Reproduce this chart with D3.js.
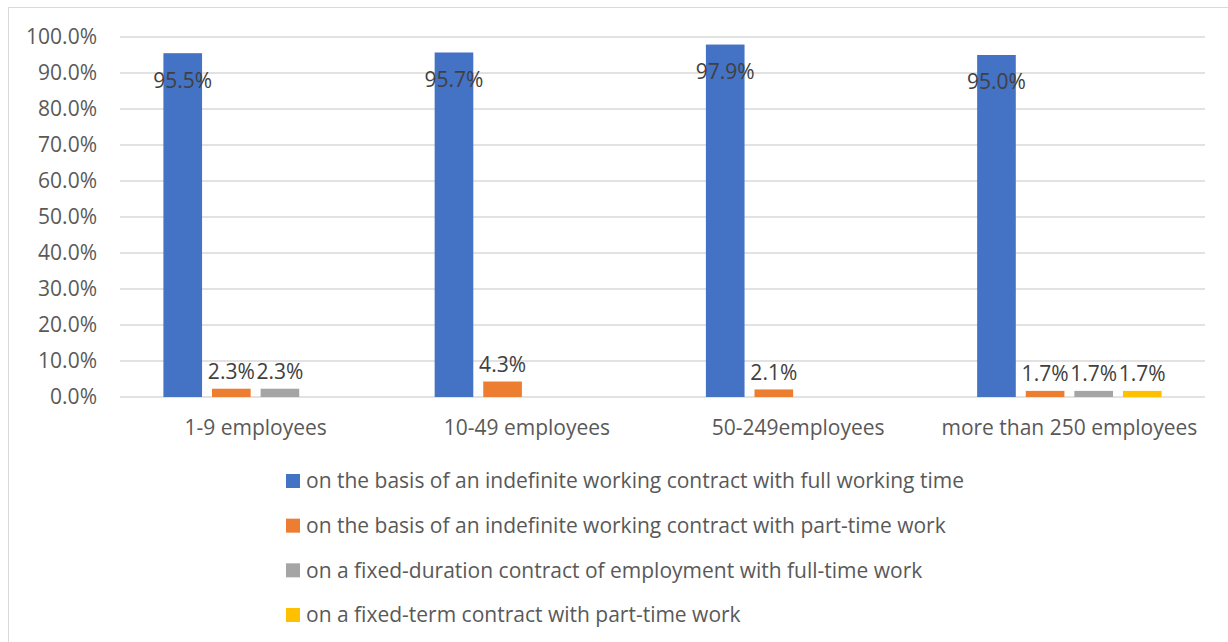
<!DOCTYPE html>
<html><head><meta charset="utf-8">
<script src="https://cdn.jsdelivr.net/npm/d3@7"></script>
<style>body{margin:0;background:#fff}svg{display:block}text{font-family:"Open Sans",sans-serif}</style>
</head><body><svg id="c" width="1228" height="642"></svg>
<script>
const categories = ["1-9 employees","10-49 employees","50-249employees","more than 250 employees"];
const seriesNames = [
 "on the basis of an indefinite working contract with full working time",
 "on the basis of an indefinite working contract with part-time work",
 "on a fixed-duration contract of employment with full-time work",
 "on a fixed-term contract with part-time work"];
const seriesColors = ["#4472C4","#ED7D31","#A5A5A5","#FFC000"];
const fullTime = [95.5, 95.7, 97.9, 95.0];
const partTime = [2.3, 4.3, 2.1, 1.7];
const fixedFull = [2.3, null, null, 1.7];
const fixedPart = [null, null, null, 1.7];
const seriesValues = [fullTime, partTime, fixedFull, fixedPart];
const yTicks = [0,10,20,30,40,50,60,70,80,90,100];

const svg = d3.select("#c");
const fs = 21;
const lfs = 21;
// outer border
svg.append("rect").attr("x",8.5).attr("y",7.5).attr("width",1240).attr("height",660)
  .attr("fill","none").attr("stroke","#D9D9D9");

const y = d3.scaleLinear().domain([0,100]).range([397,37]);
const x0 = d3.scaleBand().domain(categories).range([120,1205]).paddingInner(0.32).paddingOuter(0.16);
const x1 = d3.scaleBand().domain(d3.range(4)).range([0,x0.bandwidth()]).paddingInner(0.205);

// grid
svg.append("g").selectAll("line").data(yTicks).join("line")
  .attr("x1",120).attr("x2",1205).attr("y1",d=>y(d)).attr("y2",d=>y(d))
  .attr("stroke","#D9D9D9").attr("stroke-width",1.3);

// y axis labels
const yAxis = d3.axisLeft(y).tickValues(yTicks).tickFormat(d=>d.toFixed(1)+"%").tickSize(0).tickPadding(0);
const ga = svg.append("g").attr("transform","translate(97,0)").call(yAxis);
ga.select(".domain").remove();
ga.selectAll("text").attr("font-size",fs).attr("fill","#595959").attr("font-family","Open Sans");

// bars
const groups = svg.append("g").selectAll("g").data(categories).join("g")
  .attr("transform",c=>`translate(${x0(c)},0)`);
groups.each(function(c,ci){
  const g = d3.select(this);
  const data = seriesValues.map((s,si)=>({si, v:s[ci]})).filter(d=>d.v!=null);
  g.selectAll("rect").data(data).join("rect")
    .attr("x",d=>x1(d.si)).attr("width",x1.bandwidth())
    .attr("y",d=>y(d.v)).attr("height",d=>y(0)-y(d.v))
    .attr("fill",d=>seriesColors[d.si]);
  g.selectAll("text").data(data).join("text")
    .attr("x",d=>x1(d.si)+x1.bandwidth()/2)
    .attr("y",d=>d.v>90 ? y(d.v)+27 : y(d.v)-17)
    .attr("dy","0.35em").attr("text-anchor","middle")
    .attr("font-size",fs).attr("fill","#404040")
    .text(d=>d.v.toFixed(1)+"%");
});

// x axis labels
const xAxis = d3.axisBottom(x0).tickSize(0).tickPadding(0);
const gx = svg.append("g").attr("transform","translate(0,420)").call(xAxis);
gx.select(".domain").remove();
gx.selectAll("text").attr("font-size",fs).attr("fill","#595959").attr("font-family","Open Sans");

// legend
const leg = svg.append("g").selectAll("g").data(seriesNames).join("g")
  .attr("transform",(d,i)=>`translate(286,${481+i*44.67})`);
leg.append("rect").attr("x",0).attr("y",-7).attr("width",14).attr("height",14)
  .attr("fill",(d,i)=>seriesColors[i]);
leg.append("text").attr("x",20).attr("y",0).attr("dy","0.35em")
  .attr("font-size",lfs).attr("fill","#595959").text(d=>d);
</script></body></html>
